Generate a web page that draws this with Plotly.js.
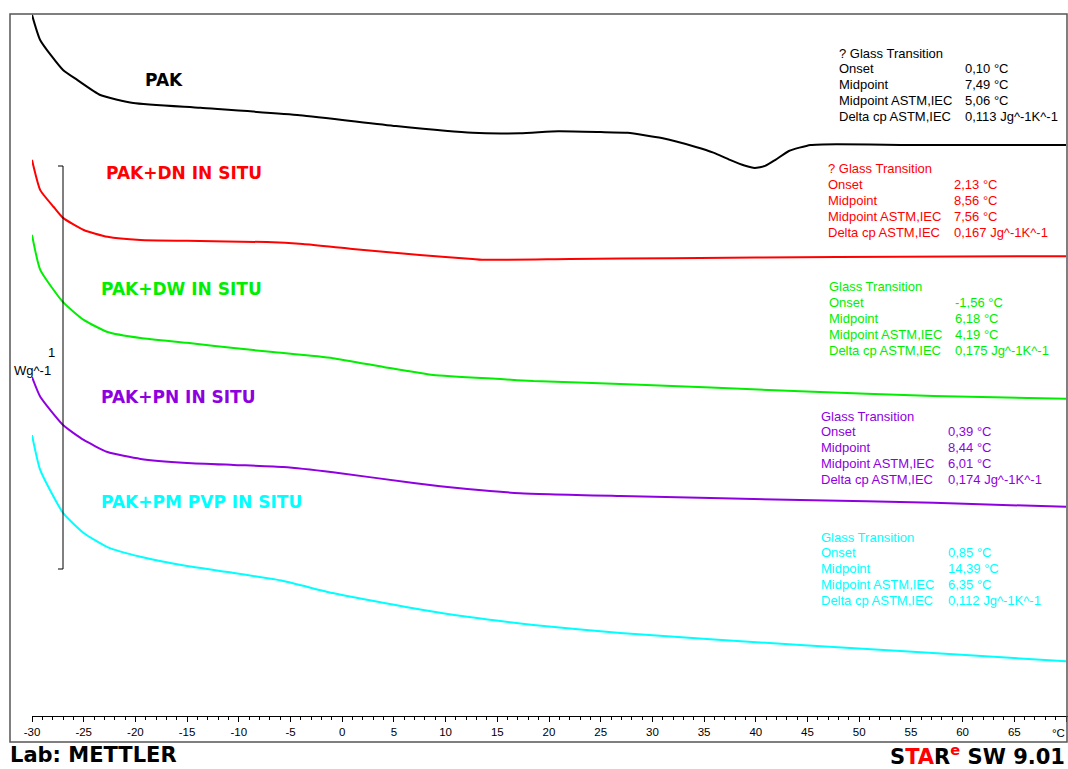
<!DOCTYPE html>
<html>
<head>
<meta charset="utf-8">
<script src="https://cdn.plot.ly/plotly-3.0.1.min.js"></script>
<style>html,body{margin:0;padding:0;background:#fff;}#chart{width:1068px;height:769px;}</style>
</head>
<body>
<div id="chart"></div>
<script>
// ---- Data (temperature in °C, heat flow in W/g, curves offset as displayed) ----
const pakT   = [-30, -29.2, -27, -25.6, -23.4, -20.2, -13.7, -4.1, 5.2, 12.6, 17.2, 20.9, 25, 27.6, 30.9, 34.2, 35.9, 37.5, 38.9, 39.9, 40.9, 41.9, 43.2, 45.3, 47.9, 54, 63.6, 70];
const pakHF  = [1.740, 1.677, 1.603, 1.578, 1.541, 1.521, 1.509, 1.491, 1.464, 1.447, 1.446, 1.451, 1.449, 1.447, 1.434, 1.412, 1.398, 1.380, 1.366, 1.360, 1.365, 1.380, 1.402, 1.417, 1.419, 1.417, 1.417, 1.417];

const dnT    = [-30, -29.2, -27.9, -27, -25, -22.7, -19.5, -15, -7.3, -3.8, 1.0, 7.5, 12.6, 13.5, 22, 31.9, 47.9, 70];
const dnHF   = [1.380, 1.305, 1.263, 1.236, 1.206, 1.189, 1.181, 1.179, 1.176, 1.171, 1.159, 1.144, 1.134, 1.132, 1.134, 1.136, 1.139, 1.141];

const dwT    = [-30, -29.2, -27, -25, -22.7, -19.5, -15, -10.5, -6.7, -0.9, 4.0, 8.8, 15.3, 18.5, 26.9, 44.3, 57.2, 70];
const dwHF   = [1.194, 1.107, 1.027, 0.983, 0.953, 0.938, 0.926, 0.913, 0.903, 0.888, 0.866, 0.846, 0.836, 0.831, 0.824, 0.806, 0.794, 0.787];

const pnT    = [-30, -29.2, -27, -25, -22.7, -19.5, -15, -10.5, -5.7, -0.9, 6.9, 12.1, 17.2, 26.9, 44.3, 57.2, 70];
const pnHF   = [0.841, 0.792, 0.722, 0.685, 0.655, 0.638, 0.628, 0.623, 0.618, 0.605, 0.578, 0.563, 0.553, 0.546, 0.536, 0.529, 0.519];

const pvpT   = [-30, -29.2, -27, -25, -22.7, -19.5, -15, -10.5, -5.7, -0.9, 6.3, 12.1, 18.5, 26.9, 44.3, 54, 70];
const pvpHF  = [0.697, 0.610, 0.504, 0.454, 0.419, 0.395, 0.372, 0.355, 0.335, 0.305, 0.270, 0.246, 0.226, 0.206, 0.176, 0.161, 0.136];

const seriesNames  = ['PAK', 'PAK+DN IN SITU', 'PAK+DW IN SITU', 'PAK+PN IN SITU', 'PAK+PM PVP IN SITU'];
const seriesColors = ['#000000', '#ff0000', '#00ee00', '#8f00e0', '#00ffff'];

const tickVals  = [-30, -25, -20, -15, -10, -5, 0, 5, 10, 15, 20, 25, 30, 35, 40, 45, 50, 55, 60, 65, 70];
const tickTexts = ['-30', '-25', '-20', '-15', '-10', '-5', '0', '5', '10', '15', '20', '25', '30', '35', '40', '45', '50', '55', '60', '65', '°C'];

const gtLabels = ['Onset', 'Midpoint', 'Midpoint ASTM,IEC', 'Delta cp ASTM,IEC'];
const gtTitles = ['? Glass Transition', '? Glass Transition', 'Glass Transition', 'Glass Transition', 'Glass Transition'];
const gtValues = [
  ['0,10 °C', '7,49 °C', '5,06 °C', '0,113 Jg^-1K^-1'],
  ['2,13 °C', '8,56 °C', '7,56 °C', '0,167 Jg^-1K^-1'],
  ['-1,56 °C', '6,18 °C', '4,19 °C', '0,175 Jg^-1K^-1'],
  ['0,39 °C', '8,44 °C', '6,01 °C', '0,174 Jg^-1K^-1'],
  ['0,85 °C', '14,39 °C', '6,35 °C', '0,112 Jg^-1K^-1']
];

const xs = [pakT, dnT, dwT, pnT, pvpT];
const ys = [pakHF, dnHF, dwHF, pnHF, pvpHF];

// ---- Layout geometry (pixels) ----
const W = 1068, H = 769;
const L = 32, R = 0, T = 14, B = 53;
const PW = W - L - R, PH = H - T - B;
const px2x = p => (p - L) / PW;
const py2y = p => (H - B - p) / PH;

const traces = xs.map((x, i) => ({
  x: x, y: ys[i], type: 'scatter', mode: 'lines', name: seriesNames[i],
  line: {color: seriesColors[i], width: 2, shape: 'spline', smoothing: 0.5},
  hoverinfo: 'skip'
}));

const annotations = [];
function ann(text, px, py, color, size, family, extra) {
  annotations.push(Object.assign({
    xref: 'paper', yref: 'paper', x: px2x(px), y: py2y(py),
    xanchor: 'left', yanchor: 'middle', showarrow: false, text: text,
    font: {color: color, size: size, family: family}
  }, extra || {}));
}

// Curve labels
const labelPos = [[143, 80], [104, 173], [99, 289], [99, 397], [99, 502]];
seriesNames.forEach((n, i) => ann('<b>' + n + '</b>', labelPos[i][0], labelPos[i][1], seriesColors[i], 17, 'DejaVu Sans'));

// Glass transition blocks
const blockPos = [[837, 963, 53], [826, 952, 169], [827, 953, 287], [819, 946, 416], [819, 946, 537]];
const gtFont = 'Liberation Sans';
gtTitles.forEach((t, i) => {
  const [lx, vx, y0] = blockPos[i];
  ann(t, lx, y0, seriesColors[i], 13, gtFont);
  gtLabels.forEach((lab, k) => {
    ann(lab, lx, y0 + 15.8 * (k + 1), seriesColors[i], 13, gtFont);
    ann(gtValues[i][k], vx, y0 + 15.8 * (k + 1), seriesColors[i], 13, gtFont);
  });
});

// Axis unit label at the last tick position (right edge)
ann(tickTexts[tickTexts.length - 1], 1058, 733, '#000', 11.5, 'Liberation Sans', {xanchor: 'center'});

// Scale bar label
ann('1', 46, 353, '#000', 13, 'Liberation Sans');
ann('Wg^-1', 12, 370, '#000', 13, 'Liberation Sans');

// Footer
ann('<b>Lab: METTLER</b>', 9, 755, '#000', 21, 'DejaVu Sans', {borderpad: 0});
ann('<b>S<span style="color:#ff0000">TA</span>R<sup><span style="color:#ff0000">e</span></sup> SW 9.01</b>', 1066, 755, '#000', 21, 'DejaVu Sans', {xanchor: 'right', borderpad: 0});

const scaleBottom = py2y(569) * (PH / 403); // 1 W/g scale bar start, in W/g
const shapes = [
  // frame
  {type: 'rect', xref: 'paper', yref: 'paper', x0: px2x(10), x1: px2x(1067), y0: py2y(742), y1: py2y(14),
   line: {color: '#555', width: 1.5}, layer: 'above'},
  // 1 W/g scale bar
  {type: 'line', xref: 'paper', yref: 'y', x0: px2x(63), x1: px2x(63), y0: scaleBottom, y1: scaleBottom + 1, line: {color: '#000', width: 1}},
  {type: 'line', xref: 'paper', yref: 'y', x0: px2x(58), x1: px2x(63), y0: scaleBottom, y1: scaleBottom, line: {color: '#000', width: 1}},
  {type: 'line', xref: 'paper', yref: 'y', x0: px2x(58), x1: px2x(63), y0: scaleBottom + 1, y1: scaleBottom + 1, line: {color: '#000', width: 1}}
];

const layout = {
  width: W, height: H,
  margin: {l: L, r: R, t: T, b: B, pad: 0},
  paper_bgcolor: '#fff', plot_bgcolor: '#fff',
  showlegend: false,
  xaxis: {
    range: [-30, -30 + PW / 10.34], showgrid: false, zeroline: false,
    showline: true, linecolor: '#000', linewidth: 1,
    ticks: 'outside', ticklen: 5, tickcolor: '#000', tickwidth: 1,
    tickmode: 'array', tickvals: tickVals, ticktext: tickTexts.slice(0, -1).concat(['']),
    tickfont: {family: 'Liberation Sans', size: 11.5, color: '#000'},
    minor: {ticks: 'outside', ticklen: 3, tickcolor: '#000', tickwidth: 1, dtick: 1, tick0: -30, showgrid: false},
    fixedrange: true
  },
  yaxis: {
    range: [0, PH / 403], visible: false, showgrid: false, zeroline: false, fixedrange: true
  },
  annotations: annotations,
  shapes: shapes
};

Plotly.newPlot('chart', traces, layout, {staticPlot: true, displayModeBar: false});
</script>
</body>
</html>
